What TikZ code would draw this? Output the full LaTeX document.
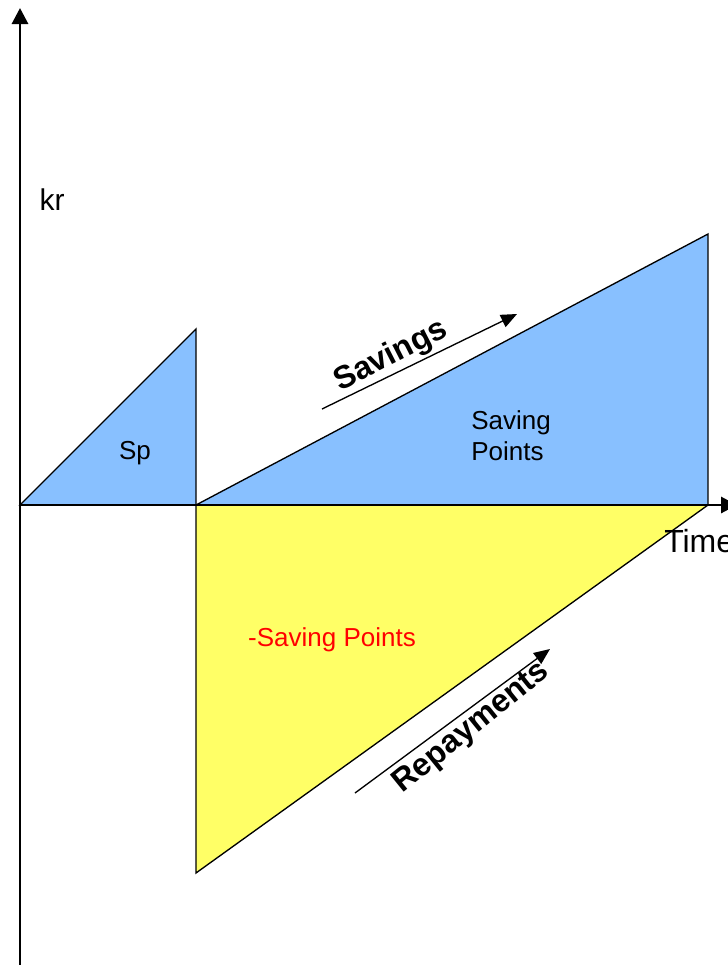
\documentclass[tikz,border=0pt]{standalone}
\usepackage{fontspec}
\setmainfont{Liberation Sans}
\usetikzlibrary{arrows.meta, positioning, calc}

\definecolor{saveblue}{RGB}{136,192,255}
\definecolor{loanyellow}{RGB}{255,255,102}

\begin{document}
\begin{tikzpicture}[
    x=0.75pt, y=-0.75pt,
    axis/.style={line width=2.2pt, -{Triangle[length=12pt, width=12pt]}},
    area/.style={draw, line width=1pt, line join=miter},
    flow/.style={line width=1pt, -{Triangle[length=12pt, width=10pt]}},
    lbl/.style={font=\fontsize{19.5}{23}\selectfont, align=left, inner sep=0pt},
    flowlbl/.style={font=\fontsize{24}{28}\selectfont\bfseries, inner sep=0pt}
]
\useasboundingbox (0,0) rectangle (728,965);

\coordinate (orig) at (20,505);
\coordinate (ytop) at (20,8);
\coordinate (ybot) at (20,965);
\coordinate (xend) at (737,505);
\coordinate (sptop) at (196,329);
\coordinate (spbase) at (196,505);
\coordinate (svtop) at (708,234);
\coordinate (svbase) at (708,505);
\coordinate (rpbot) at (196,873);
\coordinate (savfrom) at (322,409);
\coordinate (savto) at (517,314);
\coordinate (repfrom) at (355,793);
\coordinate (repto) at (550,649);

\filldraw[area, fill=saveblue] (orig) -- (sptop) -- (spbase) -- cycle;
\filldraw[area, fill=saveblue] (spbase) -- (svtop) -- (svbase) -- cycle;
\filldraw[area, fill=loanyellow] (spbase) -- (svbase) -- (rpbot) -- cycle;

\draw[axis] (ybot) -- (ytop);
\draw[axis] (orig) -- (xend);

\draw[flow] (savfrom) -- (savto);
\draw[flow] (repfrom) -- (repto);

\node[lbl] (sp) at (135,453) {Sp};
\node[lbl] (svpts) at (511,436) {Saving\\Points};
\node[lbl, text=red] (negpts) at (332,640) {-Saving Points};
\node[lbl, font=\fontsize{22.5}{26}\selectfont] (kr) at (52,200) {kr};
\node[lbl, font=\fontsize{24}{28}\selectfont, anchor=west] (time) at (664,541) {Time};
\node[flowlbl, rotate=27] (savings) at (391,356) {Savings};
\node[flowlbl, rotate=39] (repay) at (472,728) {Repayments};

\end{tikzpicture}
\end{document}
